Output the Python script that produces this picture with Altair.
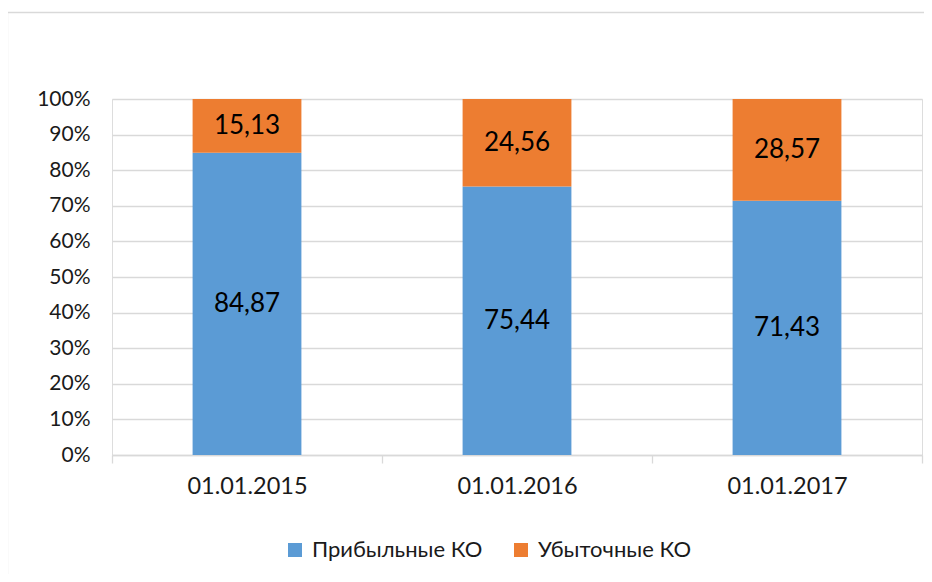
import altair as alt
import pandas as pd

dates = ["01.01.2015", "01.01.2016", "01.01.2017"]
series = ["Прибыльные КО", "Убыточные КО"]
profitable = [84.87, 75.44, 71.43]
loss = [15.13, 24.56, 28.57]
colors = ["#5B9BD5", "#ED7D31"]

rows = []
for i, d in enumerate(dates):
    rows.append({"date": d, "series": series[0], "value": profitable[i], "ord": 0})
    rows.append({"date": d, "series": series[1], "value": loss[i], "ord": 1})
df = pd.DataFrame(rows)

FONT = "Lato"
W, H = 810, 356
yticks = [round(i / 10, 1) for i in range(11)]

xaxis = alt.Axis(labelAngle=0, labelFontSize=23.5, labelFont=FONT, labelColor="#1a1a1a",
                 tickBand="extent", tickSize=8, tickColor="#D9D9D9", tickWidth=1.3,
                 domainColor="#D9D9D9", domainWidth=1.3, labelPadding=11, grid=False, title=None)
yaxis = alt.Axis(format=".0%", values=yticks, labelFontSize=21, labelFont=FONT,
                 labelColor="#1a1a1a", ticks=False, domain=False, labelOverlap=False,
                 labelPadding=22, gridColor="#D9D9D9", gridWidth=1.3, title=None)
xscale = alt.Scale(paddingInner=0, paddingOuter=0)
yscale = alt.Scale(domain=[0, 1], nice=False)

base = alt.Chart(df).transform_calculate(
    frac="datum.value / 100",
    lbl="replace(format(datum.value, '.2f'), '.', ',')"
)

bars = base.mark_bar(width=alt.RelativeBandSize(0.403)).encode(
    x=alt.X("date:N", sort=dates, scale=xscale, axis=xaxis),
    y=alt.Y("frac:Q", stack="zero", scale=yscale, axis=yaxis),
    color=alt.Color("series:N", sort=series,
                    scale=alt.Scale(domain=series, range=colors),
                    legend=alt.Legend(title=None, orient="none", direction="horizontal",
                                      legendX=172, legendY=440, symbolType="square",
                                      symbolSize=196, symbolStrokeWidth=0, labelFontSize=22,
                                      labelFont=FONT, labelColor="#1a1a1a", labelOffset=6,
                                      labelLimit=400, columnPadding=27)),
    order=alt.Order("ord:Q"),
)

labels = base.transform_stack(
    stack="frac", groupby=["date"], as_=["y0", "y1"], sort=[alt.SortField("ord")]
).transform_calculate(
    mid="(datum.y0 + datum.y1) / 2"
).mark_text(fontSize=26, font=FONT, color="#000000", baseline="middle").encode(
    x=alt.X("date:N", sort=dates, scale=xscale, axis=xaxis),
    y=alt.Y("mid:Q", scale=yscale, axis=yaxis),
    text="lbl:N",
)

one = pd.DataFrame({"a": [0]})
top_line = alt.Chart(one).mark_rule(stroke="#D9D9D9", strokeWidth=1.3).encode(
    x=alt.value(-104.5), x2=alt.value(900), y=alt.value(-86.5)
)
left_line = alt.Chart(one).mark_rule(stroke="#D9D9D9", strokeWidth=1.3).encode(
    x=alt.value(-104.5), y=alt.value(-86.5), y2=alt.value(700)
)

chart = alt.layer(top_line, left_line, bars, labels).properties(
    width=W, height=H,
    autosize=alt.AutoSizeParams(type="none"),
    padding={"left": 104, "top": 91, "right": 2, "bottom": 119},
).configure_view(strokeWidth=0, stroke="transparent").configure(font=FONT)

chart.save("out.html", embed_options={"renderer": "svg", "actions": False})
